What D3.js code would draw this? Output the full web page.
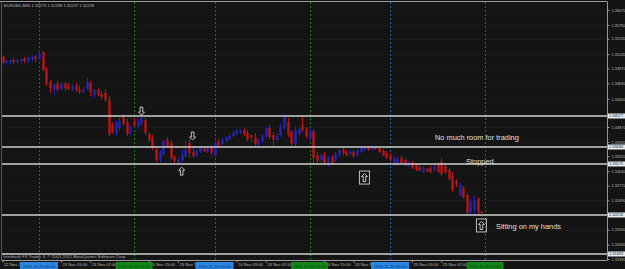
<!DOCTYPE html>
<html>
<head>
<meta charset="utf-8">
<script src="https://cdnjs.cloudflare.com/ajax/libs/d3/7.8.5/d3.min.js"></script>
<style>
  html, body { margin: 0; padding: 0; background: #141414; }
  svg { display: block; }
  text { font-family: "Liberation Sans", Arial, sans-serif; }
</style>
</head>
<body>
<svg id="chart"></svg>
<script>
// EURUSD M30, 22 Nov 2011 19:00 .. 25 Nov 2011
const opens = [1.3519,1.3507,1.3509,1.3513,1.3509,1.3511,1.3515,1.3511,1.3515,1.3519,
  1.3515,1.3528,1.3496,1.3472,1.3458,1.3468,1.3458,1.3468,1.3464,1.3458,
  1.3464,1.3458,1.3453,1.3458,1.3470,1.3447,1.3457,1.3449,1.3451,1.3438,
  1.3391,1.3374,1.3385,1.3406,1.3396,1.3378,1.3398,1.3387,1.3393,1.3400,
  1.3374,1.3366,1.3344,1.3325,1.3336,1.3363,1.3357,1.3331,1.3319,1.3325,
  1.3333,1.3357,1.3340,1.3333,1.3340,1.3346,1.3340,1.3349,1.3334,1.3359,
  1.3355,1.3361,1.3364,1.3370,1.3374,1.3378,1.3381,1.3376,1.3372,1.3368,
  1.3353,1.3361,1.3370,1.3385,1.3372,1.3363,1.3372,1.3385,1.3396,1.3378,
  1.3355,1.3374,1.3391,1.3381,1.3366,1.3378,1.3334,1.3325,1.3334,1.3316,
  1.3331,1.3323,1.3334,1.3344,1.3340,1.3336,1.3340,1.3334,1.3340,1.3344,
  1.3348,1.3344,1.3349,1.3348,1.3342,1.3338,1.3334,1.3319,1.3316,1.3329,
  1.3325,1.3314,1.3319,1.3316,1.3312,1.3302,1.3308,1.3310,1.3306,1.3316,
  1.3321,1.3314,1.3306,1.3295,1.3286,1.3259,1.3272,1.3259,1.3227,1.3231,
  1.3252,1.32273];
const highs = [1.3521,1.3513,1.3515,1.3517,1.3515,1.3517,1.3519,1.3519,1.3522,1.3522,
  1.3532,1.3530,1.3500,1.3475,1.3468,1.3474,1.3472,1.3472,1.3470,1.3468,
  1.3470,1.3466,1.3462,1.3479,1.3474,1.3458,1.3460,1.3455,1.3458,1.3445,
  1.3396,1.3400,1.3404,1.3411,1.3402,1.3391,1.3404,1.3402,1.3413,1.3404,
  1.3378,1.3372,1.3348,1.3344,1.3364,1.3368,1.3363,1.3334,1.3329,1.3344,
  1.3361,1.3363,1.3348,1.3346,1.3351,1.3349,1.3351,1.3353,1.3363,1.3364,
  1.3366,1.3370,1.3374,1.3380,1.3383,1.3383,1.3385,1.3381,1.3372,1.3376,
  1.3364,1.3374,1.3389,1.3391,1.3378,1.3374,1.3393,1.3411,1.3404,1.3381,
  1.3389,1.3387,1.3408,1.3387,1.3383,1.3383,1.3340,1.3338,1.3340,1.3333,
  1.3334,1.3340,1.3346,1.3348,1.3344,1.3344,1.3344,1.3346,1.3351,1.3349,
  1.3351,1.3353,1.3351,1.3351,1.3346,1.3342,1.3338,1.3333,1.3331,1.3333,
  1.3329,1.3323,1.3323,1.3319,1.3316,1.3314,1.3310,1.3314,1.3316,1.3319,
  1.3329,1.3317,1.3310,1.3302,1.3289,1.3282,1.3276,1.3263,1.3252,1.3257,
  1.3255,1.32298];
const lows = [1.3505,1.3504,1.3505,1.3505,1.3505,1.3507,1.3507,1.3507,1.3511,1.3509,
  1.3513,1.3492,1.3464,1.3451,1.3447,1.3453,1.3457,1.3455,1.3457,1.3455,
  1.3453,1.3449,1.3451,1.3457,1.3445,1.3442,1.3445,1.3440,1.3434,1.3370,
  1.3374,1.3370,1.3380,1.3389,1.3370,1.3372,1.3387,1.3383,1.3389,1.3372,
  1.3359,1.3344,1.3321,1.3321,1.3333,1.3348,1.3325,1.3319,1.3316,1.3321,
  1.3329,1.3329,1.3329,1.3331,1.3338,1.3340,1.3338,1.3334,1.3331,1.3349,
  1.3353,1.3359,1.3363,1.3368,1.3372,1.3374,1.3370,1.3361,1.3359,1.3351,
  1.3349,1.3357,1.3366,1.3364,1.3349,1.3359,1.3368,1.3381,1.3368,1.3351,
  1.3351,1.3370,1.3378,1.3366,1.3361,1.3316,1.3319,1.3321,1.3317,1.3312,
  1.3317,1.3321,1.3333,1.3334,1.3333,1.3334,1.3329,1.3331,1.3338,1.3342,
  1.3342,1.3342,1.3344,1.3338,1.3333,1.3327,1.3323,1.3317,1.3314,1.3317,
  1.3314,1.3312,1.3308,1.3304,1.3304,1.3301,1.3302,1.3301,1.3304,1.3301,
  1.3295,1.3299,1.3286,1.3265,1.3274,1.3255,1.3252,1.3223,1.3223,1.3223,
  1.3222,1.32237];
const closes = [1.3509,1.3511,1.3513,1.3509,1.3513,1.3515,1.3511,1.3517,1.3519,1.3515,
  1.3526,1.3494,1.3468,1.3460,1.3466,1.3458,1.3468,1.3460,1.3458,1.3464,
  1.3457,1.3453,1.3458,1.3472,1.3453,1.3457,1.3447,1.3443,1.3438,1.3374,
  1.3378,1.3396,1.3398,1.3393,1.3374,1.3387,1.3391,1.3398,1.3404,1.3376,
  1.3363,1.3348,1.3325,1.3340,1.3361,1.3351,1.3329,1.3323,1.3325,1.3336,
  1.3344,1.3338,1.3333,1.3342,1.3348,1.3342,1.3348,1.3338,1.3357,1.3353,
  1.3363,1.3366,1.3370,1.3376,1.3380,1.3381,1.3374,1.3363,1.3368,1.3355,
  1.3363,1.3372,1.3385,1.3368,1.3363,1.3370,1.3389,1.3404,1.3372,1.3355,
  1.3381,1.3383,1.3381,1.3370,1.3380,1.3329,1.3323,1.3334,1.3319,1.3329,
  1.3319,1.3336,1.3342,1.3338,1.3334,1.3340,1.3333,1.3342,1.3348,1.3348,
  1.3344,1.3349,1.3346,1.3340,1.3334,1.3329,1.3325,1.3329,1.3327,1.3319,
  1.3316,1.3319,1.3310,1.3306,1.3306,1.3310,1.3304,1.3302,1.3312,1.3302,
  1.3299,1.3302,1.3289,1.3269,1.3278,1.3278,1.3255,1.3227,1.3248,1.3250,
  1.3227,1.32258];

// right price scale (the two ticks under the level tags are not shown)
const priceTicks = [1.36070,1.35790,1.35530,1.35240,1.34970,1.34690,1.34400,
  1.33870,1.33590,1.33320,1.33040,1.32770,1.32490,1.31940,1.31660,1.31390];

// horizontal line objects
const lineLevels = [1.34077, 1.33494, 1.33175, 1.32216, 1.31483];

// bottom time scale, one label every 8 bars (labels hidden by the date tags left out)
const timeLabelBars = [0,16,24,40,48,64,72,88,96,112,120];
const timeLabels = ['22 Nov 2011','23 Nov 03:00','23 Nov 07:00','23 Nov 15:00','23 Nov 19:00',
  '24 Nov 03:00','24 Nov 07:00','24 Nov 15:00','24 Nov 19:00','25 Nov 03:00','25 Nov 07:00'];

// period separators (bar index) with their date tags
const dayBars = [10, 58, 106];
const dayTags = ['2011.11.23 00:00','2011.11.24 00:00','2011.11.25 00:00'];
const noonBars = [36, 84, 132];
const noonTags = ['2011.11.23 13:00','2011.11.24 13:00','2011.11.25 13:00'];

// arrow objects: bar, price, direction, framed
const arrowBars = [38, 52, 49, 99, 131];
const arrowPrices = [1.3417, 1.3370, 1.3304, 1.3292, 1.3202];
const arrowDirs = ['down','down','up','up','up'];
const arrowBoxed = [false,false,false,true,true];

// text objects: bar, price, text
const noteBars = [118.3, 126.8, 135];
const notePrices = [1.3362, 1.3317, 1.3196];
const noteTexts = ['No much room for trading', 'Stopped', 'Sitting on my hands'];

const width = 625, height = 269;
const plot = { left: 2, top: 2, right: 607, bottom: 260 };

const svg = d3.select('#chart').attr('width', width).attr('height', height);

svg.append('rect').attr('width', width).attr('height', height).attr('fill', '#141414');

const x = d3.scaleLinear().domain([0, 165]).range([2.5, 2.5 + 165 * 3.656]);
const y = d3.scaleLinear().domain([1.31389, 1.36220]).range([259, 2]);

// faint grid
const grid = svg.append('g');
grid.selectAll('line.h').data(priceTicks).join('line')
  .attr('x1', plot.left).attr('x2', plot.right)
  .attr('y1', d => Math.round(y(d)) + 0.5).attr('y2', d => Math.round(y(d)) + 0.5)
  .attr('stroke', '#1f1f1f').attr('stroke-dasharray', '1,1');

// period separators
svg.append('g').selectAll('line').data(dayBars).join('line')
  .attr('x1', d => Math.round(x(d)) + 0.5).attr('x2', d => Math.round(x(d)) + 0.5)
  .attr('y1', plot.top).attr('y2', plot.bottom)
  .attr('stroke', '#1f56b8').attr('stroke-dasharray', '2,2');
svg.append('g').selectAll('line').data(noonBars).join('line')
  .attr('x1', d => Math.round(x(d)) + 0.5).attr('x2', d => Math.round(x(d)) + 0.5)
  .attr('y1', plot.top).attr('y2', plot.bottom)
  .attr('stroke', '#157a18').attr('stroke-dasharray', '2,2');

// candles
const bars = d3.range(closes.length);
const bull = i => closes[i] >= opens[i];
const candles = svg.append('g');
candles.selectAll('line').data(bars).join('line')
  .attr('x1', i => Math.round(x(i)) + 0.5).attr('x2', i => Math.round(x(i)) + 0.5)
  .attr('y1', i => y(highs[i])).attr('y2', i => y(lows[i]))
  .attr('stroke', i => bull(i) ? '#2424b4' : '#b81414');
candles.selectAll('rect').data(bars).join('rect')
  .attr('x', i => Math.round(x(i)) - 0.7)
  .attr('width', 2.4)
  .attr('y', i => y(Math.max(opens[i], closes[i])))
  .attr('height', i => Math.max(1, Math.abs(y(opens[i]) - y(closes[i]))))
  .attr('fill', i => bull(i) ? '#2424b4' : '#b81414');

// horizontal lines
svg.append('g').selectAll('line').data(lineLevels).join('line')
  .attr('x1', plot.left).attr('x2', plot.right)
  .attr('y1', d => y(d)).attr('y2', d => y(d))
  .attr('stroke', '#d0d0d0').attr('stroke-width', 1.6);

// arrows
const upPath = 'M0,-4 L3,-1 L1.3,-1 L1.3,4 L-1.3,4 L-1.3,-1 L-3,-1 Z';
const arrows = svg.append('g');
arrowBars.forEach((b, k) => {
  const g = arrows.append('g')
    .attr('transform', `translate(${x(b)},${y(arrowPrices[k])})`);
  if (arrowBoxed[k]) {
    g.append('rect').attr('x', -5).attr('y', -6.5).attr('width', 10).attr('height', 13)
      .attr('fill', 'none').attr('stroke', '#bdbdbd').attr('stroke-width', 1);
  }
  g.append('path').attr('d', upPath)
    .attr('transform', arrowDirs[k] === 'down' ? 'rotate(180)' : null)
    .attr('fill', 'none').attr('stroke', '#d8d8d8').attr('stroke-width', 0.9);
});

// text notes
svg.append('g').selectAll('text').data(noteTexts).join('text')
  .attr('x', (d, k) => x(noteBars[k]))
  .attr('y', (d, k) => y(notePrices[k]))
  .attr('fill', '#e0e0e0').attr('font-size', '7.4px')
  .text(d => d);

// header and footer
const last = closes.length - 1;
svg.append('text').attr('x', 4).attr('y', 7).attr('fill', '#b8b8b8').attr('font-size', '4.1px')
  .text(`EURUSD,M30  ${opens[last].toFixed(5)} ${highs[last].toFixed(5)} ${lows[last].toFixed(5)} ${closes[last].toFixed(5)}`);
svg.append('text').attr('x', 3).attr('y', 258.3).attr('fill', '#b0b0b0').attr('font-size', '4.3px')
  .text('Interbank FX Trader 4, \u00a9 2001-2011 MetaQuotes Software Corp.');

// frame
svg.append('line').attr('x1', 0).attr('x2', plot.right).attr('y1', 1.5).attr('y2', 1.5)
  .attr('stroke', '#9a9a9a');
svg.append('line').attr('x1', 1.5).attr('x2', 1.5).attr('y1', 1.5).attr('y2', plot.bottom)
  .attr('stroke', '#5a5a5a');

// price axis
const yAxis = svg.append('g').attr('transform', `translate(${plot.right + 0.5},0)`)
  .call(d3.axisRight(y).tickValues(priceTicks).tickFormat(d3.format('.5f')).tickSize(2).tickPadding(2));
yAxis.select('.domain').attr('stroke', '#9a9a9a').attr('d', `M0,1.5V${plot.bottom}`);
yAxis.selectAll('line').attr('stroke', '#9a9a9a');
yAxis.selectAll('text').attr('fill', '#b8b8b8').attr('font-size', '3.9px')
  .attr('font-family', '"Liberation Sans", Arial, sans-serif');

// level tags on the price axis
const tags = svg.append('g');
lineLevels.forEach(p => {
  tags.append('rect').attr('x', plot.right + 1).attr('y', y(p) - 2.5).attr('width', 18).attr('height', 5)
    .attr('fill', '#e8e8e8');
  tags.append('text').attr('x', plot.right + 2).attr('y', y(p) + 1.4)
    .attr('fill', '#202020').attr('font-size', '3.9px').text(d3.format('.5f')(p));
});

// time axis
const xAxis = svg.append('g').attr('transform', `translate(0,${plot.bottom + 0.5})`)
  .call(d3.axisBottom(x).tickValues(timeLabelBars).tickFormat((d, k) => timeLabels[k]).tickSize(2).tickPadding(1));
xAxis.select('.domain').attr('stroke', '#9a9a9a').attr('d', `M1.5,0H${plot.right + 0.5}`);
xAxis.selectAll('line').attr('stroke', '#9a9a9a');
xAxis.selectAll('text').attr('fill', '#b8b8b8').attr('font-size', '4.2px')
  .attr('text-anchor', 'start').attr('dx', 1)
  .attr('font-family', '"Liberation Sans", Arial, sans-serif');

// separator date tags over the time axis
const sepTags = svg.append('g');
dayBars.forEach((b, k) => {
  sepTags.append('rect').attr('x', x(b) - 19).attr('y', 262).attr('width', 38).attr('height', 7)
    .attr('fill', '#2a86e0');
  sepTags.append('text').attr('x', x(b)).attr('y', 267.5).attr('text-anchor', 'middle')
    .attr('fill', '#0c2f66').attr('font-size', '4.2px').text(dayTags[k]);
});
noonBars.forEach((b, k) => {
  sepTags.append('rect').attr('x', x(b) - 18.5).attr('y', 262).attr('width', 37).attr('height', 7)
    .attr('fill', '#13861a');
  sepTags.append('text').attr('x', x(b)).attr('y', 267.5).attr('text-anchor', 'middle')
    .attr('fill', '#063a08').attr('font-size', '4.2px').text(noonTags[k]);
});
</script>
</body>
</html>
